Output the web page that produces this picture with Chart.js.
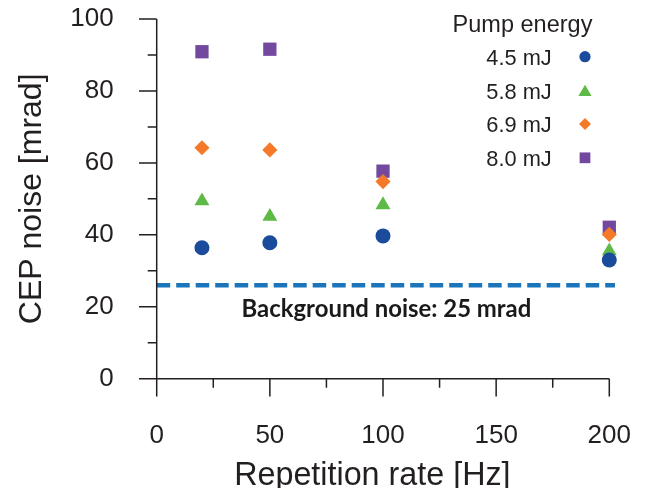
<!DOCTYPE html>
<html><head><meta charset="utf-8">
<script src="https://cdn.jsdelivr.net/npm/chart.js@4/dist/chart.umd.min.js"></script>
<style>html,body{margin:0;padding:0;background:#fff}#wrap{width:646px;height:488px}</style>
</head><body><div id="wrap"><canvas id="c" width="646" height="488"></canvas></div>
<script>
// ---- data ----
const repRate = [20, 50, 100, 200];
const cep45 = [36.4, 37.8, 39.7, 33.0];
const cep58 = [49.4, 45.1, 48.3, 35.5];
const cep69 = [64.2, 63.6, 54.8, 40.1];
const cep80 = [90.9, 91.6, 57.7, 42.1];
const seriesLabels = ['4.5 mJ', '5.8 mJ', '6.9 mJ', '8.0 mJ'];
const legendTitle = 'Pump energy';
const bgX = [0, 202.5];
const bgY = [26, 26];
const bgLabel = 'Background noise: 25 mrad';
const xTicks = [0, 50, 100, 150, 200];
const xMinor = [25, 75, 125, 175];
const yTicks = [0, 20, 40, 60, 80, 100];
const yMinor = [10, 30, 50, 70, 90];
const xTitle = 'Repetition rate [Hz]';
const yTitle = 'CEP noise [mrad]';

// ---- styles ----
const INK = '#231f20';
const FONT = "'Liberation Sans', Arial, sans-serif";
const styles = [
  {color: '#1b4b9b', shape: 'circle', r: 7.5, lr: 5.6},
  {color: '#5dba47', shape: 'triangle', r: 8.6, lr: 7.6},
  {color: '#f47a2a', shape: 'rectRot', r: 7.6, lr: 6.0},
  {color: '#7349a0', shape: 'rect', r: 9.4, lr: 7.6}
];
const series = [cep45, cep58, cep69, cep80];
const pts = (ys) => repRate.map((x, i) => ({x, y: ys[i]}));

const datasets = series.map((ys, i) => ({
  label: seriesLabels[i],
  data: pts(ys),
  pointStyle: styles[i].shape,
  pointRadius: styles[i].r,
  pointHoverRadius: styles[i].r,
  pointBackgroundColor: styles[i].color,
  pointBorderWidth: 0,
  showLine: false,
  clip: false
}));
datasets.push({
  type: 'line',
  label: bgLabel,
  data: bgX.map((x, i) => ({x, y: bgY[i]})),
  borderColor: '#1b75bb',
  borderWidth: 4.5,
  borderDash: [13.5, 6],
  borderCapStyle: 'butt',
  pointRadius: 0,
  clip: false,
  fill: false
});

function marker(ctx, shape, x, y, r, color) {
  ctx.save();
  ctx.fillStyle = color;
  ctx.beginPath();
  if (shape === 'circle') {
    ctx.arc(x, y, r, 0, Math.PI * 2);
  } else if (shape === 'triangle') {
    const a = 2 * Math.PI / 3;
    ctx.moveTo(x, y - r);
    ctx.lineTo(x + Math.sin(a) * r, y - Math.cos(a) * r);
    ctx.lineTo(x + Math.sin(2 * a) * r, y - Math.cos(2 * a) * r);
    ctx.closePath();
  } else if (shape === 'rectRot') {
    ctx.moveTo(x, y - r); ctx.lineTo(x + r, y); ctx.lineTo(x, y + r); ctx.lineTo(x - r, y); ctx.closePath();
  } else {
    const s = r * Math.SQRT1_2;
    ctx.rect(x - s, y - s, 2 * s, 2 * s);
  }
  ctx.fill();
  ctx.restore();
}

const decor = {
  id: 'decor',
  afterDraw(chart) {
    const ctx = chart.ctx;
    const xs = chart.scales.x, ys = chart.scales.y;
    const x0 = xs.getPixelForValue(0), y0 = ys.getPixelForValue(0);
    const MAJ = 17.7, MIN = 9;
    ctx.save();
    ctx.strokeStyle = INK;
    ctx.lineWidth = 1.5;
    ctx.lineCap = 'butt';
    ctx.beginPath();
    ctx.moveTo(x0, ys.getPixelForValue(100)); ctx.lineTo(x0, y0);
    ctx.moveTo(x0, y0); ctx.lineTo(xs.getPixelForValue(200), y0);
    yTicks.forEach(v => { const p = ys.getPixelForValue(v); ctx.moveTo(x0 - MAJ, p); ctx.lineTo(x0, p); });
    yMinor.forEach(v => { const p = ys.getPixelForValue(v); ctx.moveTo(x0 - MIN, p); ctx.lineTo(x0, p); });
    xTicks.forEach(v => { const p = xs.getPixelForValue(v); ctx.moveTo(p, y0); ctx.lineTo(p, y0 + MAJ); });
    xMinor.forEach(v => { const p = xs.getPixelForValue(v); ctx.moveTo(p, y0); ctx.lineTo(p, y0 + MIN); });
    ctx.stroke();

    // x title
    ctx.fillStyle = INK;
    ctx.font = '32.3px ' + FONT;
    ctx.textAlign = 'center';
    ctx.textBaseline = 'alphabetic';
    ctx.fillText(xTitle, xs.getPixelForValue(95.3), 484.5);

    // background label
    ctx.font = "bold 24px Lato, 'Open Sans', sans-serif";
    const w = ctx.measureText(bgLabel).width;
    const size = 24 * 290 / w;
    ctx.font = 'bold ' + size.toFixed(2) + "px Lato, 'Open Sans', sans-serif";
    ctx.fillStyle = '#1a1a1a';
    ctx.fillText(bgLabel, xs.getPixelForValue(101.5), 316.5);

    // legend
    ctx.fillStyle = INK;
    ctx.font = '23.5px ' + FONT;
    ctx.textAlign = 'center';
    ctx.fillText(legendTitle, 522.5, 31.7);
    ctx.font = '21.8px ' + FONT;
    ctx.textAlign = 'right';
    seriesLabels.forEach((lab, i) => {
      const base = 65 + i * 33.7;
      ctx.fillText(lab, 551.7, base);
      let my = base - 8.3;
      if (styles[i].shape === 'triangle') my += styles[i].lr * 0.25;
      marker(ctx, styles[i].shape, 585, my, styles[i].lr, styles[i].color);
    });
    ctx.restore();
  }
};

new Chart(document.getElementById('c'), {
  type: 'scatter',
  data: {datasets},
  options: {
    responsive: false,
    animation: false,
    devicePixelRatio: 1,
    layout: {padding: {top: 19, right: 36.7, left: 0, bottom: 0}},
    plugins: {legend: {display: false}, tooltip: {enabled: false}},
    scales: {
      x: {
        type: 'linear', min: 0, max: 200,
        afterBuildTicks: s => { s.ticks = xTicks.map(v => ({value: v})); },
        afterFit: s => { s.height = 109.3; },
        ticks: {autoSkip: false, maxRotation: 0, padding: 0, color: INK, font: {family: FONT, size: 26}},
        grid: {display: true, drawOnChartArea: false, drawTicks: true, tickLength: 42, tickColor: 'rgba(0,0,0,0)'},
        border: {display: false}
      },
      y: {
        type: 'linear', min: 0, max: 100,
        afterBuildTicks: s => { s.ticks = yTicks.map(v => ({value: v})); },
        afterFit: s => { s.width = 156.7; },
        ticks: {autoSkip: false, padding: 0, color: INK, font: {family: FONT, size: 26}},
        grid: {display: true, drawOnChartArea: false, drawTicks: true, tickLength: 43, tickColor: 'rgba(0,0,0,0)'},
        border: {display: false},
        title: {display: true, text: yTitle, color: INK, font: {family: FONT, size: 32, lineHeight: 1.2}, padding: {top: 13, bottom: 0}}
      }
    }
  },
  plugins: [decor]
});
</script>
</body></html>
